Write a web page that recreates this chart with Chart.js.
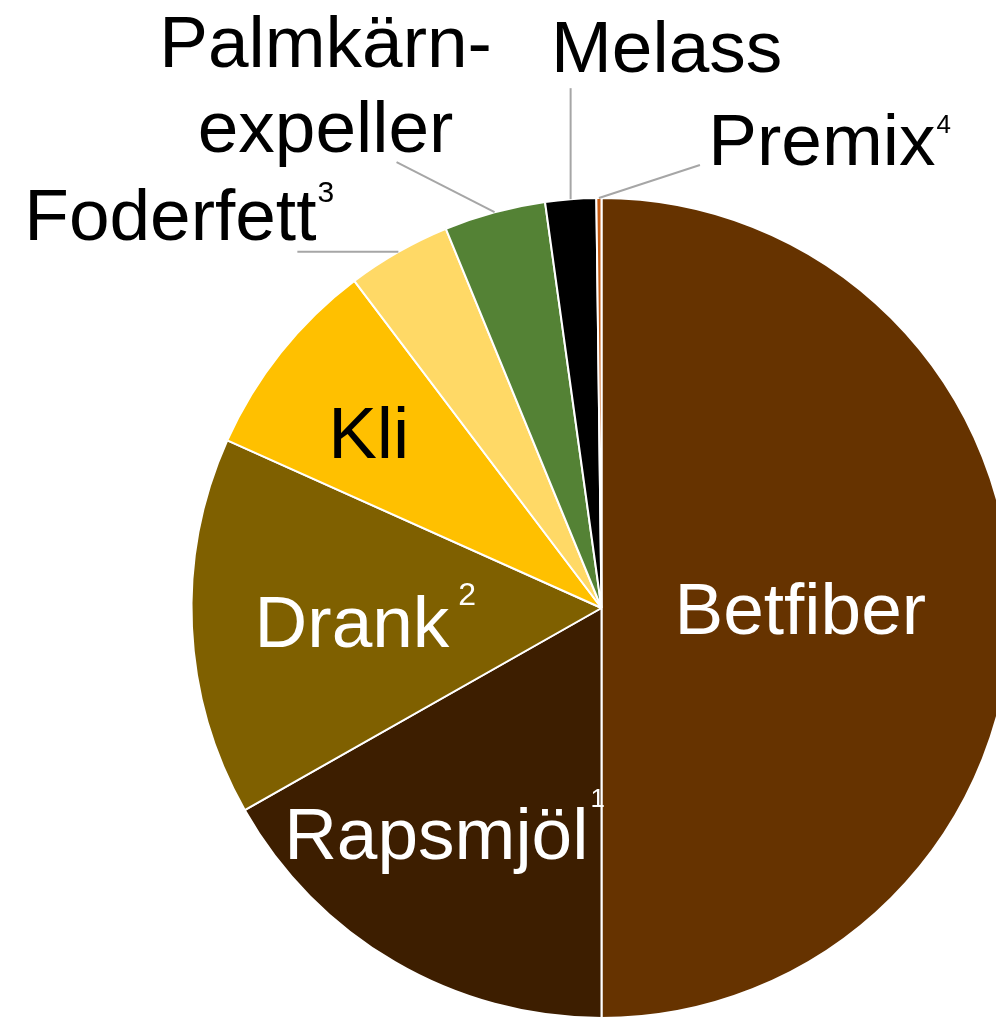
<!DOCTYPE html>
<html>
<head>
<meta charset="utf-8">
<script src="https://cdn.jsdelivr.net/npm/chart.js@4.4.1/dist/chart.umd.min.js"></script>
<style>
  html, body { margin: 0; padding: 0; background: #ffffff; overflow: hidden; }
  #wrap { width: 996px; height: 1017px; position: relative; }
</style>
</head>
<body>
<div id="wrap"><canvas id="c" width="996" height="1017"></canvas></div>
<script>
// ---- data ----
const categories = ["Betfiber", "Rapsmjöl", "Drank", "Kli", "Foderfett", "Palmkärnexpeller", "Melass", "Premix"];
const shares = [50.0, 16.8, 14.9, 8.0, 4.1, 4.0, 2.0, 0.2];
const labelLines = [["Betfiber"], ["Rapsmjöl"], ["Drank"], ["Kli"], ["Foderfett"], ["Palmkärn-", "expeller"], ["Melass"], ["Premix"]];
const footnotes = ["", "1", "2", "", "3", "", "", "4"];
const sliceColors = ["#663300", "#3D1E00", "#7F6000", "#FFC000", "#FFD966", "#548235", "#000000", "#C55A11"];
const textColors = ["#ffffff", "#ffffff", "#ffffff", "#000000", "#000000", "#000000", "#000000", "#000000"];

// label layout: anchor at fraction f of radius along slice mid-angle, then offset (dx, dy) to text baseline centre
// lead: leader line end offset from slice edge (outside labels only)
// sup: [font size, raise above baseline, gap]
const labelLayout = [
  { f: 0.48, dx: 2, dy: 26 },
  { f: 0.65, dx: -31, dy: 21, sup: [26, 52, 2] },
  { f: 0.58, dx: -12, dy: 28, sup: [32, 42, 9] },
  { f: 0.71, dx: -5, dy: 31 },
  { f: 1, dx: -228, dy: -12, lead: [-101, 0], sup: [30, 38, 1] },
  { f: 1, dx: -169, dy: -145, lineGap: 85, lead: [-98, -50] },
  { f: 1, dx: 96, dy: -127, lead: [0, -111] },
  { f: 1, dx: 223, dy: -33, lead: [101, -33], sup: [26, 32, 1] }
];

const FONT = '"Liberation Sans", Arial, sans-serif';
const MAIN_SIZE = 73;

const labelPlugin = {
  id: 'sliceLabels',
  afterDatasetsDraw(chart) {
    const ctx = chart.ctx;
    const meta = chart.getDatasetMeta(0);
    meta.data.forEach((arc, i) => {
      const p = arc.getProps(['x', 'y', 'startAngle', 'endAngle', 'outerRadius'], true);
      const mid = (p.startAngle + p.endAngle) / 2;
      const L = labelLayout[i];
      const ax = p.x + Math.cos(mid) * p.outerRadius * L.f;
      const ay = p.y + Math.sin(mid) * p.outerRadius * L.f;
      ctx.save();
      if (L.lead) {
        ctx.strokeStyle = '#A6A6A6';
        ctx.lineWidth = 2;
        ctx.beginPath();
        ctx.moveTo(ax, ay);
        ctx.lineTo(ax + L.lead[0], ay + L.lead[1]);
        ctx.stroke();
      }
      ctx.fillStyle = textColors[i];
      ctx.font = MAIN_SIZE + 'px ' + FONT;
      ctx.textAlign = 'center';
      ctx.textBaseline = 'alphabetic';
      const lines = labelLines[i];
      const tx = ax + L.dx;
      const ty = ay + L.dy;
      lines.forEach((ln, k) => {
        ctx.font = MAIN_SIZE + 'px ' + FONT;
        ctx.textAlign = 'center';
        ctx.fillText(ln, tx, ty + k * (L.lineGap || 0));
      });
      if (footnotes[i] && L.sup) {
        const last = lines[lines.length - 1];
        ctx.font = MAIN_SIZE + 'px ' + FONT;
        const w = ctx.measureText(last).width;
        ctx.font = L.sup[0] + 'px ' + FONT;
        ctx.textAlign = 'left';
        ctx.fillText(footnotes[i], tx + w / 2 + L.sup[2], ty + (lines.length - 1) * (L.lineGap || 0) - L.sup[1]);
      }
      ctx.restore();
    });
  }
};

new Chart(document.getElementById('c'), {
  type: 'pie',
  data: {
    labels: categories,
    datasets: [{
      data: shares,
      backgroundColor: sliceColors,
      borderColor: '#ffffff',
      borderWidth: 2,
      clip: false
    }]
  },
  options: {
    responsive: false,
    animation: false,
    radius: 410,
    rotation: 0,
    layout: { padding: { left: 207, top: 199, right: 0, bottom: 0 } },
    plugins: {
      legend: { display: false },
      tooltip: { enabled: false }
    }
  },
  plugins: [labelPlugin]
});
</script>
</body>
</html>
